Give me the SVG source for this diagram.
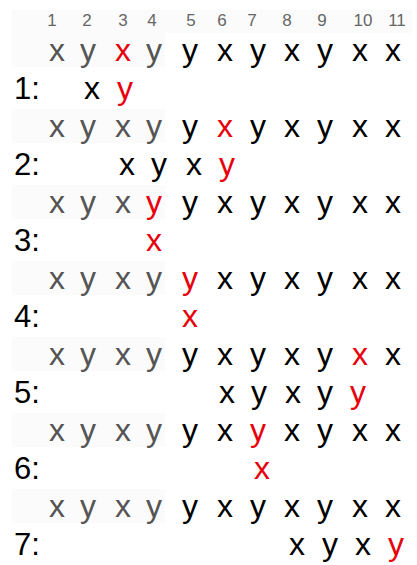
<svg xmlns="http://www.w3.org/2000/svg" width="417" height="565" viewBox="0 0 417 565">
<style>
.bg{fill:#ffffff}
.band{fill:#fbfbfb}
.hd{font-family:"Liberation Sans",Arial,sans-serif;font-size:17px;fill:#666666;text-anchor:middle}
.t{font-family:"Liberation Sans",Arial,sans-serif;font-size:32px;fill:#000000;text-anchor:middle}
.lb{font-family:"Liberation Sans",Arial,sans-serif;font-size:31px;fill:#000000}
.g{fill:#555555}
.r{fill:#e8000b}
</style>
<rect class="bg" x="0" y="0" width="417" height="565"/>
<g id="bands">
<rect class="band" x="12" y="10" width="400" height="23"/>
<rect class="band" x="12" y="33" width="153" height="34"/>
<rect class="band" x="12" y="109" width="153" height="34"/>
<rect class="band" x="12" y="185" width="153" height="34"/>
<rect class="band" x="12" y="261" width="153" height="34"/>
<rect class="band" x="12" y="337" width="153" height="34"/>
<rect class="band" x="12" y="413" width="153" height="34"/>
<rect class="band" x="12" y="489" width="153" height="34"/>
</g>
<g id="header">
<text class="hd" x="52" y="26">1</text>
<text class="hd" x="87" y="26">2</text>
<text class="hd" x="123" y="26">3</text>
<text class="hd" x="152" y="26">4</text>
<text class="hd" x="191" y="26">5</text>
<text class="hd" x="222" y="26">6</text>
<text class="hd" x="252" y="26">7</text>
<text class="hd" x="287" y="26">8</text>
<text class="hd" x="322" y="26">9</text>
<text class="hd" x="363" y="26">10</text>
<text class="hd" x="397" y="26">11</text>
</g>
<g id="seq0">
<text class="t g" x="57" y="61">x</text><text class="t g" x="88" y="61">y</text><text class="t r" x="123" y="61">x</text><text class="t g" x="154" y="61">y</text><text class="t" x="190" y="61">y</text><text class="t" x="225" y="61">x</text><text class="t" x="258" y="61">y</text><text class="t" x="292" y="61">x</text><text class="t" x="325" y="61">y</text><text class="t" x="360" y="61">x</text><text class="t" x="393" y="61">x</text>
</g>
<g id="step1">
<text class="lb" x="14" y="99">1:</text>
<text class="t" x="92" y="99">x</text><text class="t r" x="125" y="99">y</text>
</g>
<g id="seq1">
<text class="t g" x="57" y="137">x</text><text class="t g" x="88" y="137">y</text><text class="t g" x="123" y="137">x</text><text class="t g" x="154" y="137">y</text><text class="t" x="190" y="137">y</text><text class="t r" x="225" y="137">x</text><text class="t" x="258" y="137">y</text><text class="t" x="292" y="137">x</text><text class="t" x="325" y="137">y</text><text class="t" x="360" y="137">x</text><text class="t" x="393" y="137">x</text>
</g>
<g id="step2">
<text class="lb" x="14" y="175">2:</text>
<text class="t" x="127" y="175">x</text><text class="t" x="159" y="175">y</text><text class="t" x="194" y="175">x</text><text class="t r" x="227" y="175">y</text>
</g>
<g id="seq2">
<text class="t g" x="57" y="213">x</text><text class="t g" x="88" y="213">y</text><text class="t g" x="123" y="213">x</text><text class="t r" x="154" y="213">y</text><text class="t" x="190" y="213">y</text><text class="t" x="225" y="213">x</text><text class="t" x="258" y="213">y</text><text class="t" x="292" y="213">x</text><text class="t" x="325" y="213">y</text><text class="t" x="360" y="213">x</text><text class="t" x="393" y="213">x</text>
</g>
<g id="step3">
<text class="lb" x="14" y="251">3:</text>
<text class="t r" x="154" y="251">x</text>
</g>
<g id="seq3">
<text class="t g" x="57" y="289">x</text><text class="t g" x="88" y="289">y</text><text class="t g" x="123" y="289">x</text><text class="t g" x="154" y="289">y</text><text class="t r" x="190" y="289">y</text><text class="t" x="225" y="289">x</text><text class="t" x="258" y="289">y</text><text class="t" x="292" y="289">x</text><text class="t" x="325" y="289">y</text><text class="t" x="360" y="289">x</text><text class="t" x="393" y="289">x</text>
</g>
<g id="step4">
<text class="lb" x="14" y="327">4:</text>
<text class="t r" x="190" y="327">x</text>
</g>
<g id="seq4">
<text class="t g" x="57" y="365">x</text><text class="t g" x="88" y="365">y</text><text class="t g" x="123" y="365">x</text><text class="t g" x="154" y="365">y</text><text class="t" x="190" y="365">y</text><text class="t" x="225" y="365">x</text><text class="t" x="258" y="365">y</text><text class="t" x="292" y="365">x</text><text class="t" x="325" y="365">y</text><text class="t r" x="360" y="365">x</text><text class="t" x="393" y="365">x</text>
</g>
<g id="step5">
<text class="lb" x="14" y="403">5:</text>
<text class="t" x="227" y="403">x</text><text class="t" x="259" y="403">y</text><text class="t" x="293" y="403">x</text><text class="t" x="325" y="403">y</text><text class="t r" x="358" y="403">y</text>
</g>
<g id="seq5">
<text class="t g" x="57" y="441">x</text><text class="t g" x="88" y="441">y</text><text class="t g" x="123" y="441">x</text><text class="t g" x="154" y="441">y</text><text class="t" x="190" y="441">y</text><text class="t" x="225" y="441">x</text><text class="t r" x="258" y="441">y</text><text class="t" x="292" y="441">x</text><text class="t" x="325" y="441">y</text><text class="t" x="360" y="441">x</text><text class="t" x="393" y="441">x</text>
</g>
<g id="step6">
<text class="lb" x="14" y="479">6:</text>
<text class="t r" x="262" y="479">x</text>
</g>
<g id="seq6">
<text class="t g" x="57" y="517">x</text><text class="t g" x="88" y="517">y</text><text class="t g" x="123" y="517">x</text><text class="t g" x="154" y="517">y</text><text class="t" x="190" y="517">y</text><text class="t" x="225" y="517">x</text><text class="t" x="258" y="517">y</text><text class="t" x="292" y="517">x</text><text class="t" x="325" y="517">y</text><text class="t" x="360" y="517">x</text><text class="t" x="393" y="517">x</text>
</g>
<g id="step7">
<text class="lb" x="14" y="555">7:</text>
<text class="t" x="297" y="555">x</text><text class="t" x="330" y="555">y</text><text class="t" x="363" y="555">x</text><text class="t r" x="396" y="555">y</text>
</g>
</svg>
